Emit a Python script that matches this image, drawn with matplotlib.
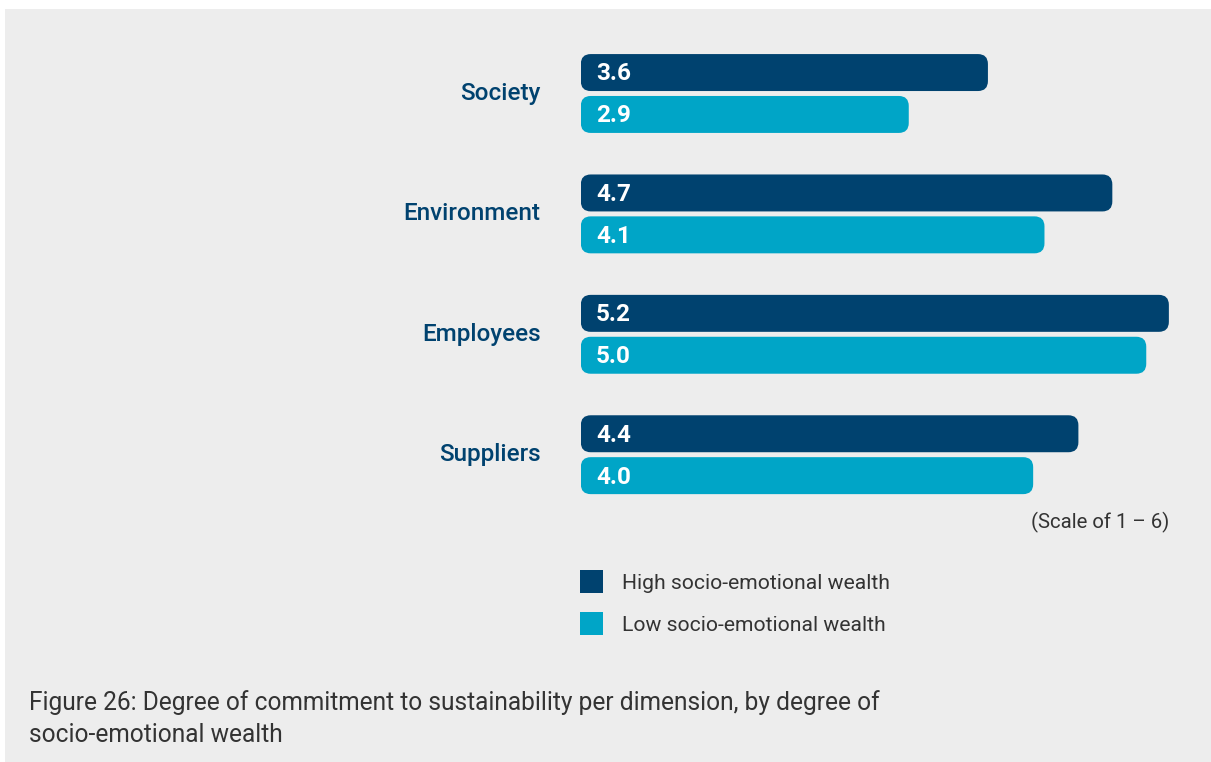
import matplotlib
matplotlib.use("Agg")
import matplotlib.pyplot as plt
from matplotlib.patches import FancyBboxPatch, Patch, Rectangle

plt.rcParams["font.family"] = ["Roboto", "DejaVu Sans"]

# --- data ---
dimensions = ["Society", "Environment", "Employees", "Suppliers"]
high_sew = [3.6, 4.7, 5.2, 4.4]
low_sew = [2.9, 4.1, 5.0, 4.0]
series_names = ["High socio-emotional wealth", "Low socio-emotional wealth"]

NAVY = "#00426f"
CYAN = "#00a5c7"
BG = "#ededed"
TXT = "#333333"

W, H = 1211, 762
fig = plt.figure(figsize=(W / 100, H / 100), dpi=100)
fig.patch.set_facecolor("white")

# gray panel behind everything
fig.patches.append(Rectangle((5 / W, 0), 1 - 5 / W, 1 - 9 / H,
                             transform=fig.transFigure, facecolor=BG,
                             edgecolor="none", zorder=-5))

ax = fig.add_axes([580.8 / W, (H - 514.9) / H, 622 / W, 481.6 / H])
ax.set_facecolor("none")
ax.set_xlim(0, 5.5)
ax.set_ylim(3.5, -0.5)
for s in ax.spines.values():
    s.set_visible(False)
ax.set_xticks([])

pos = list(range(len(dimensions)))
bar_h = 0.307
off = 0.174

def rounded(bars, color):
    # swap plain rectangles for rounded ones (same geometry)
    asp = (1 / 120.4) / (1 / 113.1)
    for r in bars:
        x0, y0, w, h = r.get_x(), r.get_y(), r.get_width(), r.get_height()
        r.remove()
        ax.add_patch(FancyBboxPatch((x0, y0), w, h,
                                    boxstyle="round,pad=0,rounding_size=0.088",
                                    mutation_aspect=asp, facecolor=color,
                                    edgecolor="none"))

for vals, color, sign in [(high_sew, NAVY, -1), (low_sew, CYAN, 1)]:
    ys = [p + sign * off for p in pos]
    bars = ax.barh(ys, vals, height=bar_h, color=color)
    rounded(bars, color)
    for y, v in zip(ys, vals):
        ax.annotate(f"{v:.1f}", (0, y), xytext=(11, -1), textcoords="offset points",
                    ha="left", va="center", color="white", fontsize=17.5,
                    fontweight="bold")

ax.set_yticks(pos)
ax.set_yticklabels(dimensions, color=NAVY, fontsize=17.5, fontweight="medium",
                   va="center")
ax.tick_params(axis="y", length=0, pad=29)

fig.text(1169 / W, 1 - 522 / H, "(Scale of 1 – 6)", ha="right", va="center",
         fontsize=14.7, color=TXT)

handles = [Patch(facecolor=NAVY), Patch(facecolor=CYAN)]
fig.legend(handles, series_names, loc="upper left",
           bbox_to_anchor=(580 / W, 1 - 570 / H), frameon=False,
           fontsize=15.25, handlelength=1.085, handleheight=1.28,
           handletextpad=0.9, labelspacing=0.92, borderpad=0,
           borderaxespad=0, labelcolor=TXT)

fig.text(29 / W, 1 - 703 / H,
         "Figure 26: Degree of commitment to sustainability per dimension, by degree of",
         ha="left", va="center", fontsize=17.65, color=TXT)
fig.text(29 / W, 1 - 735 / H, "socio-emotional wealth",
         ha="left", va="center", fontsize=17.65, color=TXT)

fig.savefig("out.png", dpi=100, facecolor=fig.get_facecolor())
